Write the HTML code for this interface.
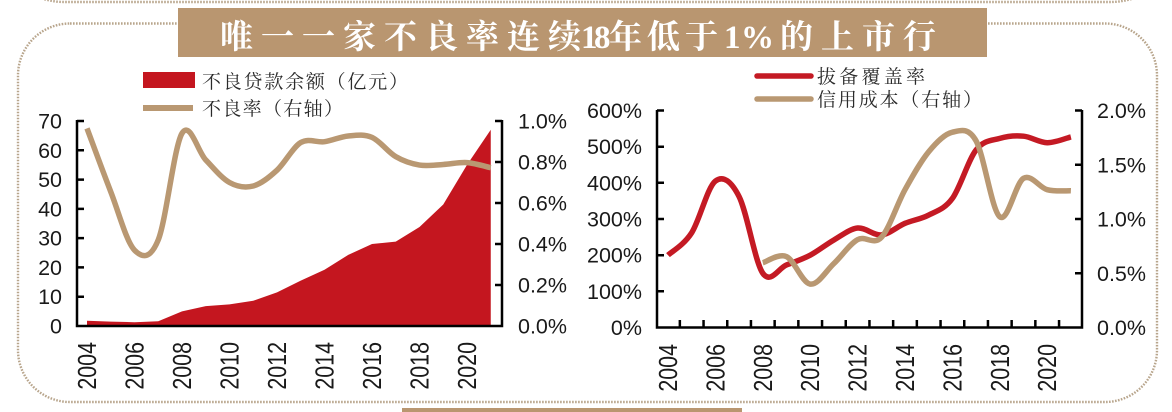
<!DOCTYPE html>
<html><head><meta charset="utf-8">
<style>
html,body{margin:0;padding:0;background:#fff;width:1172px;height:412px;overflow:hidden;}
svg{display:block;}
.t{font-family:"Liberation Sans",Arial,sans-serif;font-size:21.5px;fill:#1a1a1a;}
.yr{font-family:"Liberation Sans",Arial,sans-serif;font-size:25.5px;fill:#1a1a1a;}
.cj{font-family:"Liberation Serif","Noto Serif CJK SC",serif;font-size:19px;fill:#2a2a2a;}
.ti{font-family:"Liberation Serif","Noto Serif CJK SC",serif;font-size:33px;font-weight:bold;fill:#fff;}
</style></head><body>
<svg id="s" width="1172" height="412" viewBox="0 0 1172 412" xmlns="http://www.w3.org/2000/svg">
  <!-- borders -->
  <rect x="15" y="-60" width="1145" height="62" rx="50" fill="none" stroke="#b8a58c" stroke-width="2.4" stroke-dasharray="1.6 1.4"/>
  <rect x="18" y="23.5" width="1139" height="378.5" rx="52" fill="none" stroke="#b8a58c" stroke-width="2.4" stroke-dasharray="1.6 1.4"/>
  <rect x="402" y="408" width="340" height="6" fill="#b99670"/>
  <!-- banner -->
  <rect x="178" y="8" width="809" height="49" fill="#b99670"/>
  <text class="ti" x="220 261 302 343 384 425 466 507 548 581 594 609 647 685 724 741 780 821 862 903" y="48">唯一一家不良率连续18年低于1%的上市行</text>

  <!-- left legend -->
  <rect x="143" y="72" width="52" height="16" fill="#c4161f"/>
  <text class="cj" x="202" y="88" textLength="206" lengthAdjust="spacing">不良贷款余额（亿元）</text>
  <rect x="143" y="105" width="50" height="6" fill="#b99872"/>
  <text class="cj" x="202" y="115" textLength="141" lengthAdjust="spacing">不良率（右轴）</text>

  <!-- right legend -->
  <line x1="757" y1="76" x2="811" y2="76" stroke="#c41a24" stroke-width="5.5" stroke-linecap="round"/>
  <text class="cj" x="817" y="83" textLength="108" lengthAdjust="spacing">拔备覆盖率</text>
  <line x1="757" y1="99" x2="811" y2="99" stroke="#b99872" stroke-width="5.5" stroke-linecap="round"/>
  <text class="cj" x="817" y="106" textLength="165" lengthAdjust="spacing">信用成本（右轴）</text>

  <!-- series groups (filled by script) -->
  <g id="left"></g>
  <g id="right"></g>

  <!-- left chart axes -->
  <g stroke="#000" stroke-width="2.5" fill="none">
    <path d="M77,120 V326 H502 V120"/>
    <path d="M77,121H84 M77,150.3H84 M77,179.6H84 M77,208.9H84 M77,238.1H84 M77,267.4H84 M77,296.7H84"/>
    <path d="M502,121H495 M502,162H495 M502,203H495 M502,244H495 M502,285H495"/>
  </g>
  <g class="t" text-anchor="end">
    <text x="62" y="128.5">70</text>
    <text x="62" y="157.8">60</text>
    <text x="62" y="187.1">50</text>
    <text x="62" y="216.4">40</text>
    <text x="62" y="245.6">30</text>
    <text x="62" y="274.9">20</text>
    <text x="62" y="304.2">10</text>
    <text x="62" y="333.5">0</text>
  </g>
  <g class="t">
    <text x="518" y="128.5">1.0%</text>
    <text x="518" y="169.5">0.8%</text>
    <text x="518" y="210.5">0.6%</text>
    <text x="518" y="251.5">0.4%</text>
    <text x="518" y="292.5">0.2%</text>
    <text x="518" y="333.5">0.0%</text>
  </g>
  <g class="yr" text-anchor="end">
    <text transform="translate(96,342) rotate(-90) scale(0.84,1)">2004</text>
    <text transform="translate(143.5,342) rotate(-90) scale(0.84,1)">2006</text>
    <text transform="translate(191,342) rotate(-90) scale(0.84,1)">2008</text>
    <text transform="translate(238.5,342) rotate(-90) scale(0.84,1)">2010</text>
    <text transform="translate(286,342) rotate(-90) scale(0.84,1)">2012</text>
    <text transform="translate(333.5,342) rotate(-90) scale(0.84,1)">2014</text>
    <text transform="translate(381,342) rotate(-90) scale(0.84,1)">2016</text>
    <text transform="translate(428.5,342) rotate(-90) scale(0.84,1)">2018</text>
    <text transform="translate(476,342) rotate(-90) scale(0.84,1)">2020</text>
  </g>

  <!-- right chart axes -->
  <g stroke="#000" stroke-width="2.5" fill="none">
    <path d="M657,110 V327.5 H1082 V110"/>
    <path d="M657,110.5H664 M657,146.7H664 M657,182.8H664 M657,219H664 M657,255.2H664 M657,291.3H664"/>
    <path d="M1082,110.5H1075 M1082,164.75H1075 M1082,219H1075 M1082,273.25H1075"/>
    <path id="xt" d=""/>
  </g>
  <g class="t" text-anchor="end">
    <text x="642" y="118">600%</text>
    <text x="642" y="154.2">500%</text>
    <text x="642" y="190.3">400%</text>
    <text x="642" y="226.5">300%</text>
    <text x="642" y="262.7">200%</text>
    <text x="642" y="298.8">100%</text>
    <text x="642" y="335">0%</text>
  </g>
  <g class="t">
    <text x="1097" y="118">2.0%</text>
    <text x="1097" y="172.25">1.5%</text>
    <text x="1097" y="226.5">1.0%</text>
    <text x="1097" y="280.75">0.5%</text>
    <text x="1097" y="335">0.0%</text>
  </g>
  <g class="yr" text-anchor="end">
    <text transform="translate(677,344) rotate(-90) scale(0.84,1)">2004</text>
    <text transform="translate(724.4,344) rotate(-90) scale(0.84,1)">2006</text>
    <text transform="translate(771.8,344) rotate(-90) scale(0.84,1)">2008</text>
    <text transform="translate(819.2,344) rotate(-90) scale(0.84,1)">2010</text>
    <text transform="translate(866.6,344) rotate(-90) scale(0.84,1)">2012</text>
    <text transform="translate(914,344) rotate(-90) scale(0.84,1)">2014</text>
    <text transform="translate(961.4,344) rotate(-90) scale(0.84,1)">2016</text>
    <text transform="translate(1008.8,344) rotate(-90) scale(0.84,1)">2018</text>
    <text transform="translate(1056.2,344) rotate(-90) scale(0.84,1)">2020</text>
  </g>
</svg>
<script>
(function(){
  var NS="http://www.w3.org/2000/svg";
  function smooth(p){
    var d="M"+p[0][0].toFixed(2)+","+p[0][1].toFixed(2);
    for(var i=0;i<p.length-1;i++){
      var p0=p[i-1]||p[i],p1=p[i],p2=p[i+1],p3=p[i+2]||p[i+1];
      var c1x=p1[0]+(p2[0]-p0[0])/6,c1y=p1[1]+(p2[1]-p0[1])/6;
      var c2x=p2[0]-(p3[0]-p1[0])/6,c2y=p2[1]-(p3[1]-p1[1])/6;
      d+=" C"+c1x.toFixed(2)+","+c1y.toFixed(2)+" "+c2x.toFixed(2)+","+c2y.toFixed(2)+" "+p2[0].toFixed(2)+","+p2[1].toFixed(2);
    }
    return d;
  }
  function path(g,d,attrs){
    var e=document.createElementNS(NS,"path");
    e.setAttribute("d",d);
    for(var k in attrs)e.setAttribute(k,attrs[k]);
    g.appendChild(e);
  }
  // Left chart
  var L=document.getElementById("left");
  var xl=function(i){return 87+i*23.75;};
  var area=[1.8,1.5,1.3,1.6,5.0,6.8,7.4,8.6,11.5,15.5,19.2,24.3,28.0,28.8,33.8,41.5,55,67];
  var d="M"+xl(0)+",326";
  for(var i=0;i<area.length;i++){d+=" L"+xl(i).toFixed(2)+","+(326-area[i]*205/70).toFixed(2);}
  d+=" L"+xl(area.length-1).toFixed(2)+",326 Z";
  path(L,d,{fill:"#c4161f"});
  var npl=[0.964,0.655,0.37,0.42,0.94,0.81,0.70,0.683,0.76,0.895,0.899,0.927,0.92,0.826,0.785,0.788,0.797,0.772];
  var pts=npl.map(function(v,i){return [xl(i),326-v*205];});
  path(L,smooth(pts),{fill:"none",stroke:"#b99872","stroke-width":"5.5","stroke-linejoin":"round"});
  // Right chart
  var R=document.getElementById("right");
  var xr=function(i){return 668+i*23.7;};
  var cov=[200,262,405,362,150,173,200,242,275,256,288,311,357,491,523,529,511,527];
  var p1=cov.map(function(v,i){return [xr(i),327.5-v*217/600];});
  path(R,smooth(p1),{fill:"none",stroke:"#c41a24","stroke-width":"5.5","stroke-linejoin":"round"});
  var cc=[0.597,0.653,0.40,0.59,0.81,0.83,1.27,1.62,1.80,1.72,1.02,1.375,1.27,1.26];
  var p2=cc.map(function(v,i){return [xr(i+4),327.5-v*108.5];});
  path(R,smooth(p2),{fill:"none",stroke:"#b99872","stroke-width":"5.5","stroke-linejoin":"round"});
  // x ticks right chart
  var t="";
  for(var k=0;k<17;k++){var x=(668+11.85+k*23.7).toFixed(2);t+="M"+x+",327.5V320 ";}
  document.getElementById("xt").setAttribute("d",t);
})();
</script>
</body></html>
